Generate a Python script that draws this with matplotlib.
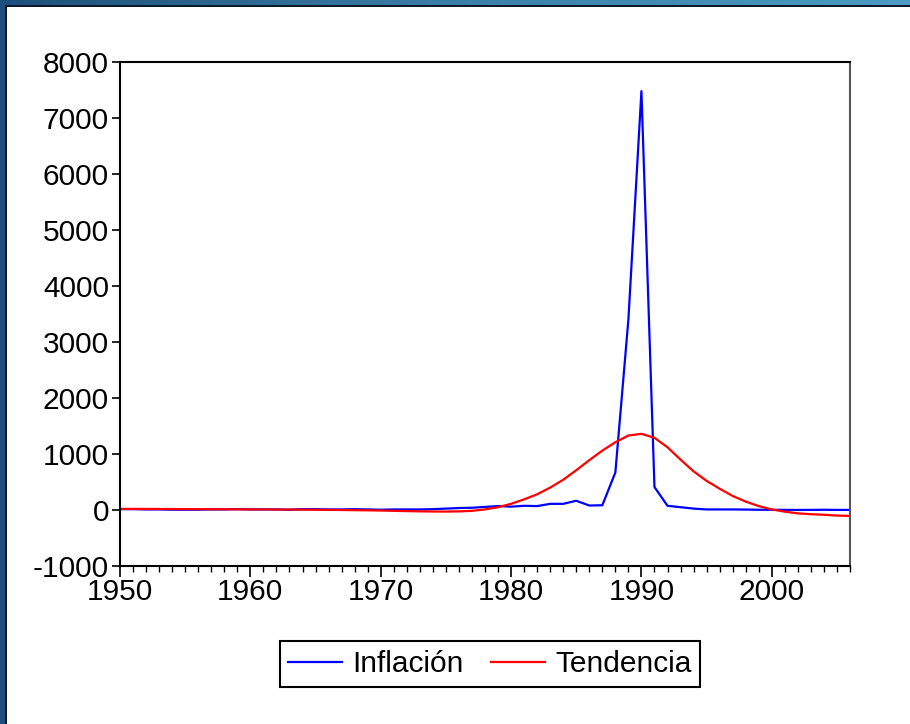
import matplotlib
matplotlib.use("Agg")
import matplotlib.pyplot as plt
import numpy as np
from matplotlib.colors import LinearSegmentedColormap

years = list(range(1950, 2007))
inflacion = [15, 15, 10, 10, 5, 5, 5, 10, 10, 15,
             10, 10, 10, 5, 15, 15, 10, 10, 15, 10,
             5, 10, 10, 10, 15, 25, 35, 40, 55, 70,
             60, 75, 70, 110, 110, 165, 80, 85, 670, 3400,
             7480, 410, 75, 50, 25, 10, 10, 10, 8, 4,
             4, 2, 1, 2, 4, 2, 2]
tendencia = [20, 20, 19, 18, 17, 16, 15, 14, 13, 12,
             11, 10, 9, 8, 6, 4, 2, 0, -3, -6,
             -10, -15, -20, -24, -27, -28, -25, -15, 10, 50,
             110, 190, 280, 400, 540, 710, 890, 1060, 1210, 1330,
             1360, 1290, 1120, 900, 690, 520, 380, 250, 150, 70,
             10, -30, -60, -75, -85, -100, -105]
yticks = [-1000, 0, 1000, 2000, 3000, 4000, 5000, 6000, 7000, 8000]
xticks = [1950, 1960, 1970, 1980, 1990, 2000]

plt.rcParams['font.family'] = ['Liberation Sans', 'DejaVu Sans']
plt.rcParams['axes.unicode_minus'] = False

W, H = 910, 724
FS = 21.5
fig = plt.figure(figsize=(W / 100, H / 100), dpi=100)
fig.patch.set_facecolor('white')

# decorative frame: gradient top band and left band
top = fig.add_axes([0, 1 - 5 / H, 1, 5 / H])
grad = np.linspace(0, 1, 256).reshape(1, -1)
cm = LinearSegmentedColormap.from_list('g', ['#1d4f7c', '#3b7fa8', '#4a9cc2'])
top.imshow(grad, aspect='auto', cmap=cm, extent=[0, 1, 0, 1])
top.axis('off')
fig.patches.append(plt.Rectangle((0, 1 - 7 / H), 1, 2 / H, transform=fig.transFigure,
                                 facecolor='#0b1a26', edgecolor='none', zorder=5))
fig.patches.append(plt.Rectangle((0, 0), 5 / W, 1, transform=fig.transFigure,
                                 facecolor='#1d4f7c', edgecolor='none', zorder=5))
fig.patches.append(plt.Rectangle((5 / W, 0), 2 / W, 1 - 5 / H, transform=fig.transFigure,
                                 facecolor='#0b1a26', edgecolor='none', zorder=5))

ax = fig.add_axes([120 / W, (H - 566) / H, 730 / W, 504 / H])
ax.plot(years, inflacion, color='#0000ff', lw=1.6, label='Inflación')
ax.plot(years, tendencia, color='#ff0000', lw=1.6, label='Tendencia')
ax.set_xlim(1950, 2006)
ax.set_ylim(-1000, 8000)
ax.set_yticks(yticks)
ax.set_xticks(xticks)
ax.set_xticks(years, minor=True)
ax.tick_params(axis='y', direction='out', length=6, width=1.2, labelsize=FS, pad=2)
ax.tick_params(axis='x', which='major', direction='out', length=8, width=1.2, labelsize=FS, pad=1)
ax.tick_params(axis='x', which='minor', direction='out', length=4, width=1.0)
for s in ['left', 'bottom', 'top']:
    ax.spines[s].set_linewidth(1.5)
    ax.spines[s].set_color('black')
ax.spines['right'].set_linewidth(1.5)
ax.spines['right'].set_color('#555555')

leg = fig.legend(loc='center', bbox_to_anchor=(490 / W, 1 - 664 / H), ncol=2,
                 fontsize=FS, frameon=True, fancybox=False, framealpha=1,
                 edgecolor='black', handlelength=1.8, handletextpad=0.35,
                 columnspacing=0.9, borderpad=0.3, borderaxespad=0)
leg.get_frame().set_linewidth(1.5)

fig.savefig('out.png', dpi=100)
